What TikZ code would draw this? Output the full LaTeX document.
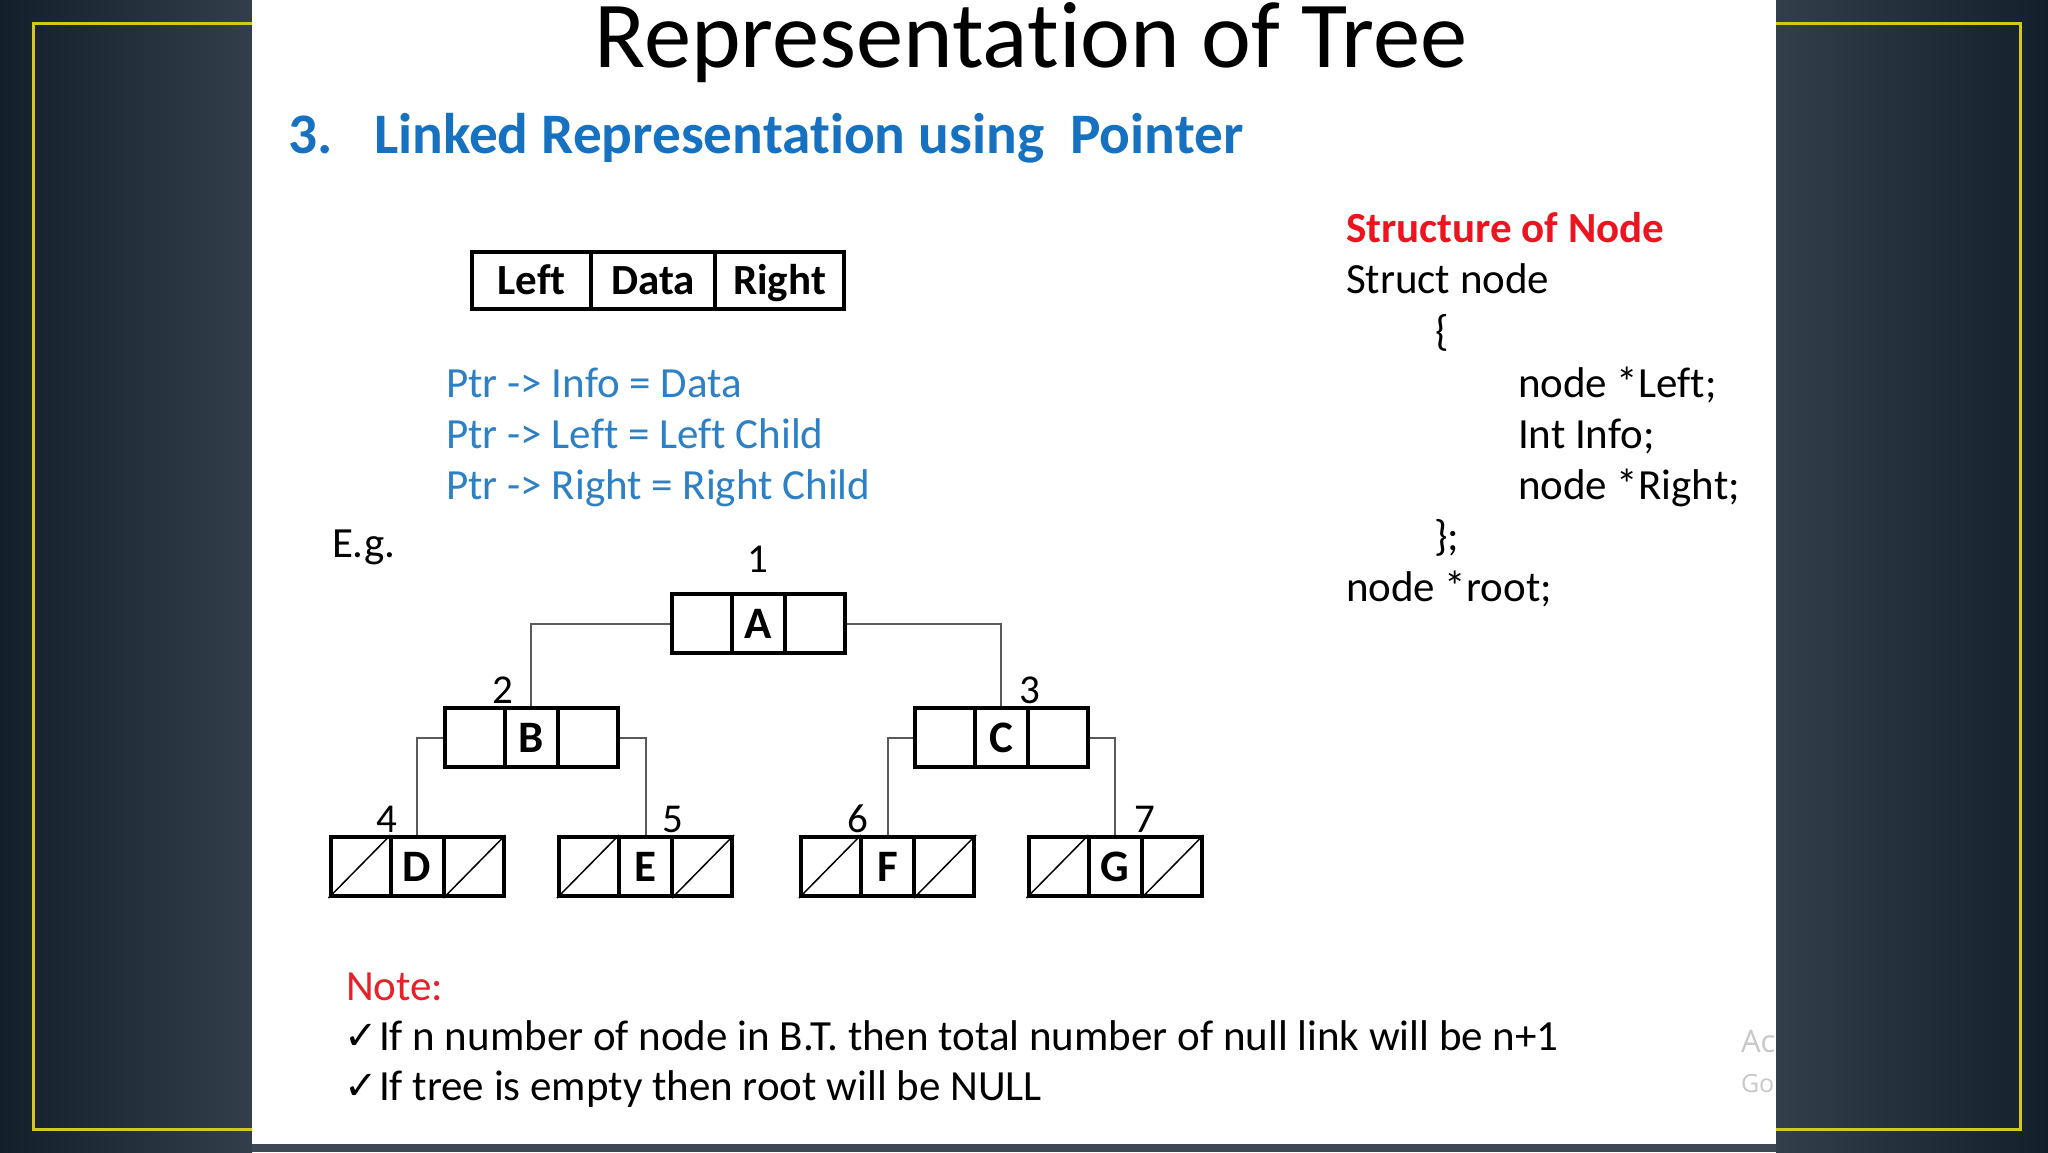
\documentclass[tikz,border=0pt]{standalone}
\usepackage{fontspec}
\setmainfont{Carlito}[Ligatures=NoCommon]
\newfontfamily\symfont{DejaVu Sans}
\newfontfamily\wmfont{Open Sans}
\usetikzlibrary{calc}
\definecolor{hdrblue}{RGB}{22,114,192}
\definecolor{txtblue}{RGB}{46,128,196}
\definecolor{hdrred}{RGB}{236,20,30}
\definecolor{notered}{RGB}{232,32,42}
\definecolor{bgdark}{RGB}{20,31,44}
\definecolor{bglight}{RGB}{50,62,74}
\definecolor{bgstrip}{RGB}{62,72,82}
\definecolor{frameyellow}{RGB}{212,200,28}
\definecolor{conngray}{RGB}{90,90,90}
\definecolor{wmgray}{RGB}{200,200,200}
\newcommand{\fsz}[1]{\fontsize{#1}{#1}\selectfont}
\newcommand{\cellsplit}[1]{%
  \draw[line width=4pt] ([xshift=-26.5pt]#1.north) -- ([xshift=-26.5pt]#1.south);
  \draw[line width=4pt] ([xshift=26.5pt]#1.north) -- ([xshift=26.5pt]#1.south);}
\newcommand{\nullslash}[1]{%
  \draw[line width=1.5pt] (#1.south west) -- ([xshift=-26.5pt]#1.north);
  \draw[line width=1.5pt] ([xshift=26.5pt]#1.south) -- (#1.north east);}
\begin{document}
\begin{tikzpicture}[x=1pt,y=-1pt,
  txt/.style={inner sep=0pt, outer sep=0pt, anchor=base west, font={\fsz{43}}},
  bluetxt/.style={txt, text=txtblue},
  num/.style={inner sep=0pt, anchor=base, font={\fsz{41}}},
  treebox/.style={draw, line width=4pt, minimum width=173pt, minimum height=59pt,
    inner sep=0pt, font={\fsz{45}\bfseries}, text height=29pt, text depth=0pt},
  cellbox/.style={draw, line width=4pt, minimum height=57pt, inner sep=0pt,
    font={\fsz{43}\bfseries}, text height=28pt, text depth=0pt},
  conn/.style={draw=conngray, line width=2pt}
]
\useasboundingbox (0,0) rectangle (2048,1152);
% background
\shade[left color=bgdark, right color=bglight] (0,0) rectangle (252,1152);
\shade[left color=bglight, right color=bgdark] (1776,0) rectangle (2048,1152);
\fill[bgstrip] (252,1144) rectangle (1776,1152);
\draw[frameyellow, line width=3pt] (33,23) rectangle (2020,1129);
\fill[white] (252,0) rectangle (1776,1144);

% title and header
\node[inner sep=0pt, anchor=base, font={\fsz{94.5}}] (title) at (1031,67) {Representation of Tree};
\node[txt, font={\fsz{57.3}\bfseries}, text=hdrblue] (hdrnum) at (288,153) {3.};
\node[txt, font={\fsz{57.3}\bfseries}, text=hdrblue] (hdr) at (374,153) {Linked Representation using~~Pointer};

% Left Data Right
\node[cellbox, minimum width=119pt] (lc) at (531.5,280.5) {Left};
\node[cellbox, minimum width=124pt] (dc) at (653,280.5) {Data};
\node[cellbox, minimum width=129pt] (rc) at (779.5,280.5) {Right};

% blue text
\node[bluetxt] (p1) at (446,397) {Ptr -> Info = Data};
\node[bluetxt] (p2) at (446,448) {Ptr -> Left = Left Child};
\node[bluetxt] (p3) at (446,499) {Ptr -> Right = Right Child};

% structure
\node[txt, font={\fsz{43}\bfseries}, text=hdrred] (s0) at (1346,242) {Structure of Node};
\node[txt] (s1) at (1346,293) {Struct node};
\node[txt] (s2) at (1435,345) {\{};
\node[txt] (s3) at (1518,397) {node *Left;};
\node[txt] (s4) at (1518,448) {Int Info;};
\node[txt] (s5) at (1518,499) {node *Right;};
\node[txt] (s6) at (1434,550) {\};};
\node[txt] (s7) at (1346,601) {node *root;};

% example tree
\node[txt] (eg) at (332,557) {E.g.};
\node[treebox] (A) at (758.5,623.5) {A};
\node[treebox] (B) at (531,737.5) {B};
\node[treebox] (C) at (1001,737.5) {C};
\node[treebox] (D) at (417,866.5) {D};
\node[treebox] (E) at (645.5,866.5) {E};
\node[treebox] (F) at (887.5,866.5) {F};
\node[treebox] (G) at (1115,866.5) {G};
\foreach \n in {A,B,C,D,E,F,G}{\cellsplit{\n}}
\foreach \n in {D,E,F,G}{\nullslash{\n}}
\draw[conn] (A.west) -| (B.north);
\draw[conn] (A.east) -| (C.north);
\draw[conn] (B.west) -| (D.north);
\draw[conn] (B.east) -| (E.north);
\draw[conn] (C.west) -| (F.north);
\draw[conn] (C.east) -| (G.north);
\node[num] (n1) at (758,572) {1};
\node[num] (n2) at (503,703) {2};
\node[num] (n3) at (1030,703) {3};
\node[num] (n4) at (387,832) {4};
\node[num] (n5) at (673,832) {5};
\node[num] (n6) at (858,832) {6};
\node[num] (n7) at (1145,832) {7};

% notes
\node[txt, text=notered] (note) at (346,1000) {Note:};
\node[txt, font={\fsz{40}\symfont}] (ck1) at (344,1049) {✓};
\node[txt] (t1) at (379,1050) {If n number of node in B.T. then total number of null link will be n+1};
\node[txt, font={\fsz{40}\symfont}] (ck2) at (344,1099) {✓};
\node[txt] (t2) at (379,1100) {If tree is empty then root will be NULL};

% watermark remnants
\begin{scope}
\clip (252,0) rectangle (1776,1144);
\node[txt, font={\fsz{31}\wmfont}, text=wmgray] (wm1) at (1741,1052) {Ac};
\node[txt, font={\fsz{25}\wmfont}, text=wmgray] (wm2) at (1741,1092) {Go};
\end{scope}
\end{tikzpicture}
\end{document}
